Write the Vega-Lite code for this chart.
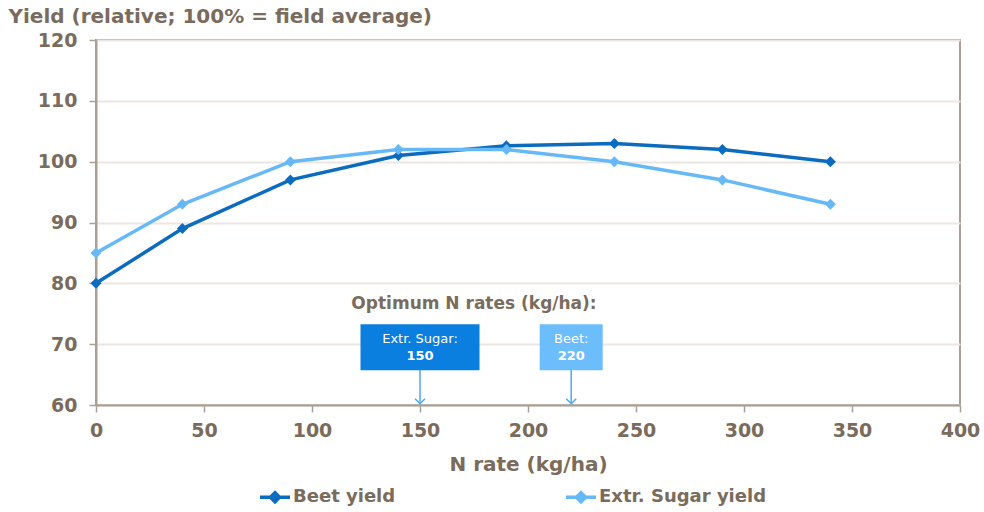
{
  "$schema": "https://vega.github.io/schema/vega-lite/v6.json",
  "autosize": {"type": "none"},
  "width": 864,
  "height": 365,
  "padding": {"left": 96, "top": 40, "right": 24, "bottom": 107},
  "background": "white",
  "config": {
    "font": "DejaVu Sans",
    "view": {"stroke": "#a99f95", "strokeWidth": 2},
    "axis": {
      "labelFont": "DejaVu Sans",
      "labelFontSize": 19,
      "labelFontWeight": "bold",
      "labelColor": "#7a6b5d",
      "labelFlush": false,
      "titleFont": "DejaVu Sans",
      "titleFontSize": 20,
      "titleFontWeight": "bold",
      "titleColor": "#7a6b5d",
      "domainColor": "#a99f95",
      "domainWidth": 2,
      "tickColor": "#a99f95",
      "tickWidth": 1.5,
      "tickSize": 7
    }
  },
  "datasets": {
    "yields": [
      {"n": 0, "series": "Beet yield", "yield": 80},
      {"n": 40, "series": "Beet yield", "yield": 89},
      {"n": 90, "series": "Beet yield", "yield": 97},
      {"n": 140, "series": "Beet yield", "yield": 101},
      {"n": 190, "series": "Beet yield", "yield": 102.6},
      {"n": 240, "series": "Beet yield", "yield": 103},
      {"n": 290, "series": "Beet yield", "yield": 102},
      {"n": 340, "series": "Beet yield", "yield": 100},
      {"n": 0, "series": "Extr. Sugar yield", "yield": 85},
      {"n": 40, "series": "Extr. Sugar yield", "yield": 93},
      {"n": 90, "series": "Extr. Sugar yield", "yield": 100},
      {"n": 140, "series": "Extr. Sugar yield", "yield": 102},
      {"n": 190, "series": "Extr. Sugar yield", "yield": 102},
      {"n": 240, "series": "Extr. Sugar yield", "yield": 100},
      {"n": 290, "series": "Extr. Sugar yield", "yield": 97},
      {"n": 340, "series": "Extr. Sugar yield", "yield": 93}
    ],
    "optimum": [
      {"crop": "Extr. Sugar:", "rate": 150},
      {"crop": "Beet:", "rate": 220}
    ],
    "heading": [
      {"caption": "Optimum  N rates (kg/ha):"}
    ]
  },
  "layer": [
    {
      "data": {"name": "yields"},
      "mark": {"type": "line", "strokeWidth": 3.5},
      "encoding": {
        "x": {
          "field": "n", "type": "quantitative",
          "scale": {"domain": [0, 400], "nice": false},
          "axis": {
            "values": [0, 50, 100, 150, 200, 250, 300, 350, 400],
            "title": "N rate (kg/ha)",
            "grid": false,
            "labelPadding": 9,
            "titlePadding": 14
          }
        },
        "y": {
          "field": "yield", "type": "quantitative",
          "scale": {"domain": [60, 120], "nice": false, "zero": false},
          "axis": {
            "values": [60, 70, 80, 90, 100, 110, 120],
            "gridColor": "#ebe6e1",
            "gridWidth": 2,
            "labelPadding": 12,
            "title": "Yield (relative; 100% = field average)",
            "titleAngle": 0,
            "titleAlign": "left",
            "titleBaseline": "middle",
            "titleX": -88,
            "titleY": -24
          }
        },
        "color": {
          "field": "series", "type": "nominal",
          "scale": {"domain": ["Beet yield", "Extr. Sugar yield"], "range": ["#0b6cbf", "#66b8f6"]},
          "legend": {
            "title": null,
            "orient": "none",
            "direction": "horizontal",
            "legendX": 162,
            "legendY": 440,
            "columnPadding": 163,
            "symbolType": "M-1,0H1M-0.3,0L0,-0.3L0.3,0L0,0.3Z",
            "symbolSize": 900,
            "symbolStrokeWidth": 3.5,
            "labelOffset": 1,
            "labelFont": "DejaVu Sans",
            "labelFontSize": 18,
            "labelFontWeight": "bold",
            "labelColor": "#7a6b5d",
            "labelLimit": 300,
            "encode": {"symbols": {"update": {"fill": {"scale": "color", "field": "value"}}}}
          }
        }
      }
    },
    {
      "data": {"name": "yields"},
      "mark": {"type": "point", "shape": "diamond", "filled": true, "size": 120, "opacity": 1},
      "encoding": {
        "x": {"field": "n", "type": "quantitative"},
        "y": {"field": "yield", "type": "quantitative"},
        "color": {"field": "series", "type": "nominal", "legend": null}
      }
    },
    {
      "data": {"name": "optimum"},
      "mark": {"type": "rule", "color": "#4fa9f0", "strokeWidth": 1.5},
      "encoding": {
        "x": {"field": "rate", "type": "quantitative"},
        "y": {"datum": 65.8},
        "y2": {"datum": 60.2}
      }
    },
    {
      "data": {"name": "optimum"},
      "mark": {"type": "point", "shape": "M-1,-1L0,0L1,-1", "filled": false, "size": 100, "strokeWidth": 1.5, "color": "#4fa9f0", "opacity": 1},
      "encoding": {
        "x": {"field": "rate", "type": "quantitative"},
        "y": {"datum": 60.2}
      }
    },
    {
      "data": {"name": "optimum"},
      "transform": [{"filter": "datum.crop === 'Extr. Sugar:'"}],
      "mark": {"type": "rect", "width": 119, "height": 46, "color": "#0a7fe0"},
      "encoding": {
        "x": {"field": "rate", "type": "quantitative"},
        "y": {"datum": 69.5}
      }
    },
    {
      "data": {"name": "optimum"},
      "transform": [{"filter": "datum.crop === 'Beet:'"}],
      "mark": {"type": "rect", "width": 63, "height": 46, "color": "#6cbdfb"},
      "encoding": {
        "x": {"field": "rate", "type": "quantitative"},
        "y": {"datum": 69.5}
      }
    },
    {
      "data": {"name": "optimum"},
      "mark": {"type": "text", "color": "white", "fontSize": 13, "dy": -8, "font": "DejaVu Sans"},
      "encoding": {
        "x": {"field": "rate", "type": "quantitative"},
        "y": {"datum": 69.5},
        "text": {"field": "crop"}
      }
    },
    {
      "data": {"name": "optimum"},
      "mark": {"type": "text", "color": "white", "fontSize": 13, "fontWeight": "bold", "dy": 9, "font": "DejaVu Sans"},
      "encoding": {
        "x": {"field": "rate", "type": "quantitative"},
        "y": {"datum": 69.5},
        "text": {"field": "rate", "type": "quantitative"}
      }
    },
    {
      "data": {"name": "heading"},
      "mark": {"type": "text", "fontSize": 17, "fontWeight": "bold", "color": "#7a6b5d", "font": "DejaVu Sans"},
      "encoding": {
        "x": {"datum": 175},
        "y": {"datum": 76.6},
        "text": {"field": "caption"}
      }
    }
  ]
}
